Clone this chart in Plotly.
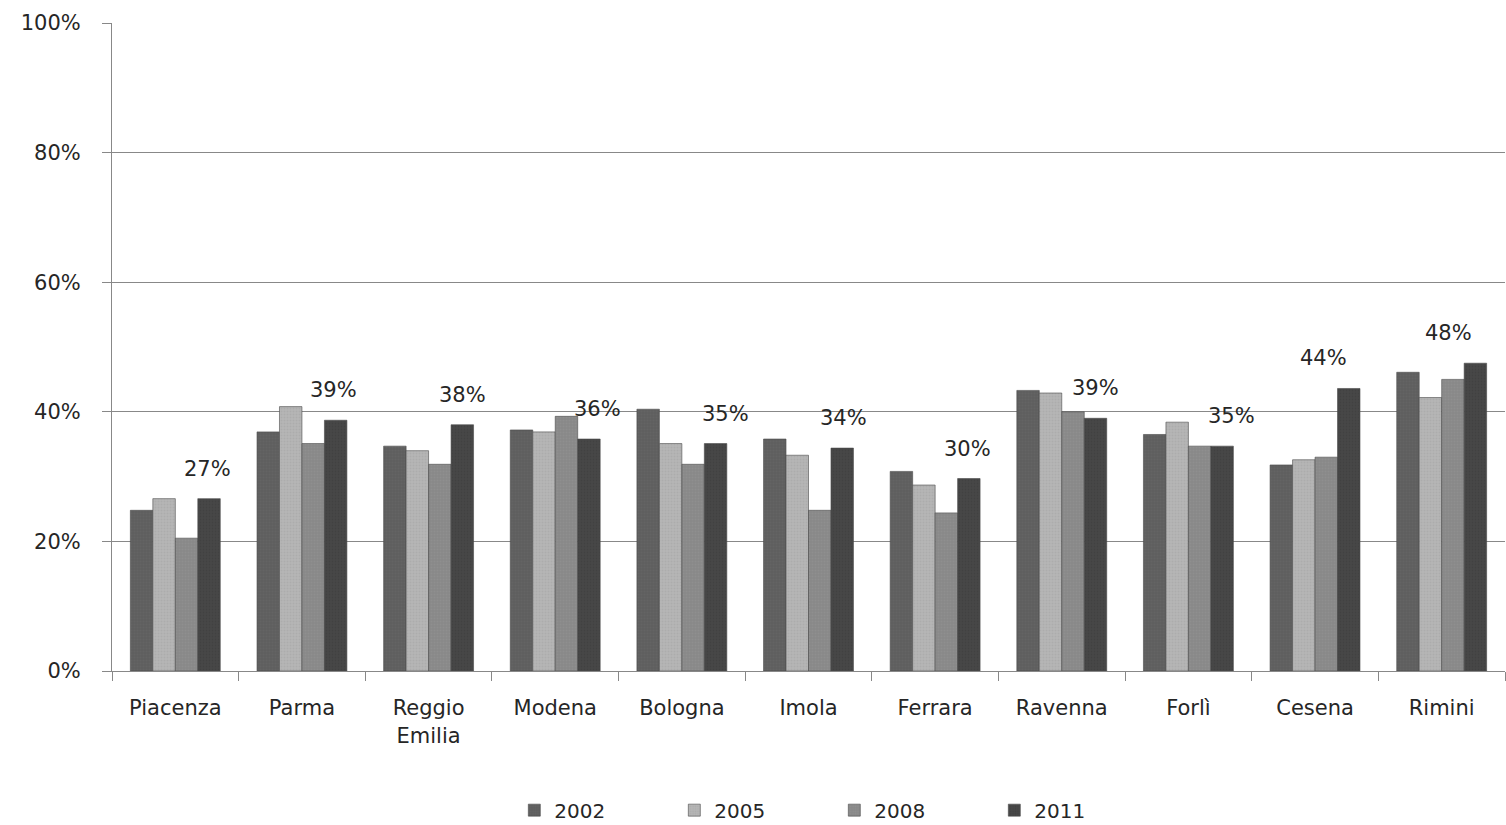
import plotly.graph_objects as go

# Cities (x categories) and the yearly shares, in percent
cities = ["Piacenza", "Parma", "Reggio<br>Emilia", "Modena", "Bologna", "Imola",
          "Ferrara", "Ravenna", "Forlì", "Cesena", "Rimini"]
years = ["2002", "2005", "2008", "2011"]

share_2002 = [24.8, 36.9, 34.7, 37.2, 40.4, 35.8, 30.8, 43.3, 36.5, 31.8, 46.1]
share_2005 = [26.6, 40.8, 34.0, 36.9, 35.1, 33.3, 28.7, 42.9, 38.4, 32.6, 42.2]
share_2008 = [20.5, 35.1, 31.9, 39.3, 31.9, 24.8, 24.4, 40.0, 34.7, 33.0, 45.0]
share_2011 = [26.6, 38.7, 38.0, 35.8, 35.1, 34.4, 29.7, 39.0, 34.7, 43.6, 47.5]

series = [share_2002, share_2005, share_2008, share_2011]
fill_colors = ["#5e5e5e", "#b5b5b5", "#888888", "#474747"]
pattern_fg = ["#6a6a6a", "#a4a4a4", "#959595", "#3c3c3c"]

# horizontal nudges (px) for the 2011 value labels
label_nudge = [-2, -2, 0, 9, 10, 1, -1, 0, 9, -25, -27]

FONT = "DejaVu Sans"
TEXT_COLOR = "#262626"

# figure geometry
W, H = 1506, 825
M_L, M_R, M_T, M_B = 112, 1, 23, 154
BARGAP = 0.29

fig = go.Figure()
for year, vals, col, fg in zip(years, series, fill_colors, pattern_fg):
    fig.add_trace(go.Bar(
        name=year,
        x=cities,
        y=vals,
        marker=dict(
            color=col,
            line=dict(color="#4a4a4a", width=0.6),
            pattern=dict(shape=".", fgcolor=fg, size=3, solidity=0.35),
        ),
    ))

# value labels over the 2011 bars (the last bar in each group)
plot_w = W - M_L - M_R
cat_w = plot_w / len(cities)
bar_w = cat_w * (1 - BARGAP) / len(years)
last_offset = bar_w * (len(years) - 1) / 2
for city, v, dx in zip(cities, share_2011, label_nudge):
    fig.add_annotation(
        x=city, y=v, xref="x", yref="y",
        text=f"{round(v):.0f}%",
        showarrow=False,
        xanchor="center", yanchor="bottom",
        xshift=last_offset + dx, yshift=16,
        font=dict(family=FONT, size=21, color=TEXT_COLOR),
    )

fig.update_layout(
    width=W,
    height=H,
    paper_bgcolor="white",
    plot_bgcolor="white",
    barmode="group",
    bargap=BARGAP,
    bargroupgap=0.0,
    margin=dict(l=M_L, r=M_R, t=M_T, b=M_B, autoexpand=False),
    font=dict(family=FONT, size=20, color=TEXT_COLOR),
    legend=dict(
        orientation="h",
        xref="container", yref="container",
        x=0.554, xanchor="center",
        y=0.018, yanchor="middle",
        entrywidth=115,
        font=dict(family=FONT, size=20, color=TEXT_COLOR),
        itemclick=False,
    ),
    showlegend=True,
)

fig.update_yaxes(
    range=[0, 100],
    tickvals=[0, 20, 40, 60, 80, 100],
    ticktext=["0%", "20%", "40%", "60%", "80%", "100%"],
    showgrid=True,
    gridcolor="#888888",
    gridwidth=1,
    showline=True,
    linecolor="#888888",
    linewidth=1,
    ticks="outside",
    ticklen=9,
    tickcolor="#888888",
    ticklabelstandoff=17,
    zeroline=False,
    tickfont=dict(family=FONT, size=21, color=TEXT_COLOR),
)

fig.update_xaxes(
    showline=True,
    linecolor="#888888",
    linewidth=1,
    ticks="outside",
    tickson="boundaries",
    ticklen=9,
    tickcolor="#888888",
    ticklabelstandoff=18,
    tickangle=0,
    tickfont=dict(family=FONT, size=21, color=TEXT_COLOR),
)

fig.write_html("out.html")
